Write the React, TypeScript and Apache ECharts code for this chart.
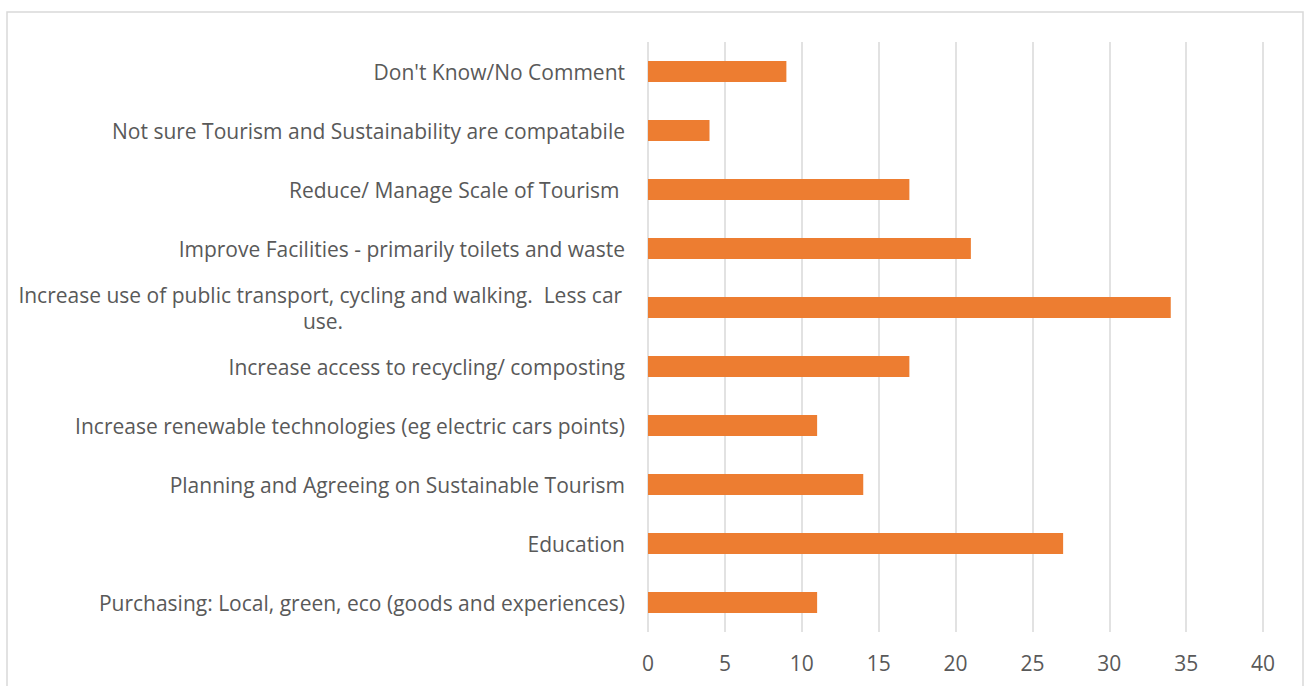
import React, { useEffect, useRef } from "react";
import * as echarts from "echarts";

const categories = [
  "Purchasing: Local, green, eco (goods and experiences)",
  "Education",
  "Planning and Agreeing on Sustainable Tourism",
  "Increase renewable technologies (eg electric cars points)",
  "Increase access to recycling/ composting",
  "Increase use of public transport, cycling and walking.  Less car use.",
  "Improve Facilities - primarily toilets and waste",
  "Reduce/ Manage Scale of Tourism ",
  "Not sure Tourism and Sustainability are compatabile",
  "Don't Know/No Comment",
];
const values = [11, 27, 14, 11, 17, 34, 21, 17, 4, 9];

const LABEL_WIDTH = 610;

export default function App() {
  const ref = useRef<HTMLDivElement>(null);
  useEffect(() => {
    if (!ref.current) return;
    const chart = echarts.init(ref.current, null, { renderer: "svg" });
    const catData = categories.map((c) =>
      c.length > 60
        ? { value: c, textStyle: { align: "center", padding: [0, LABEL_WIDTH - 6, 0, 0] } }
        : c
    );
    chart.setOption({
      animation: false,
      backgroundColor: "#ffffff",
      textStyle: { fontFamily: "Open Sans" },
      graphic: [
        {
          type: "rect",
          shape: { x: 7, y: 12, width: 1296, height: 700 },
          style: { fill: "none", stroke: "#d9d9d9", lineWidth: 1.5 },
          silent: true,
        },
      ],
      grid: { left: 648, right: 41, top: 42, bottom: 54 },
      xAxis: {
        type: "value",
        min: 0,
        max: 40,
        interval: 5,
        axisLine: { show: false },
        axisTick: { show: false },
        splitLine: { show: true, lineStyle: { color: "#d9d9d9", width: 1.5 } },
        axisLabel: { color: "#595959", fontSize: 21, margin: 20, fontFamily: "Open Sans" },
      },
      yAxis: {
        type: "category",
        data: catData,
        axisLine: { show: false },
        axisTick: { show: false },
        axisLabel: {
          color: "#595959",
          fontSize: 21,
          margin: 23,
          width: LABEL_WIDTH,
          overflow: "break",
          align: "right",
          lineHeight: 26,
          fontFamily: "Open Sans",
        },
      },
      series: [
        {
          type: "bar",
          data: values,
          barWidth: 21,
          itemStyle: { color: "#ED7D31" },
        },
      ],
    });
    return () => chart.dispose();
  }, []);
  return (
    <div
      ref={ref}
      style={{ position: "absolute", left: 0, top: 0, width: 1304, height: 686 }}
    />
  );
}
